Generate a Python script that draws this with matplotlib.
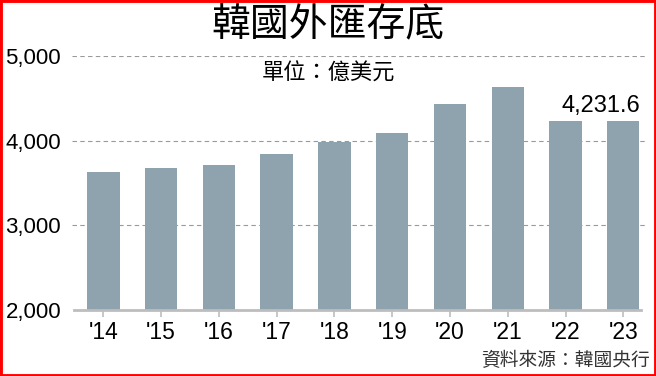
import matplotlib
matplotlib.use('Agg')
import matplotlib.pyplot as plt
from matplotlib.patches import Rectangle

years = ["'14", "'15", "'16", "'17", "'18", "'19", "'20", "'21", "'22", "'23"]
reserves = [3631, 3678, 3713, 3842, 3988, 4087, 4431, 4631, 4232, 4232]
yticks = [2000, 3000, 4000, 5000]
ytick_labels = ['2,000', '3,000', '4,000', '5,000']
last_label = '4,231.6'

cjk = ['Noto Sans CJK TC', 'DejaVu Sans']
num_font = ['Liberation Sans', 'DejaVu Sans']
bar_color = '#8fa3af'

fig = plt.figure(figsize=(6.56, 3.76), dpi=100)
ax = fig.add_axes([0.110, 0.176, 0.878, 0.675])

x = list(range(len(years)))
ax.bar(x, [v - 2000 for v in reserves], bottom=2000, width=0.56, color=bar_color, zorder=2)

ax.set_ylim(2000, 5000)
ax.set_xlim(-0.54, 9.43)
ax.set_yticks(yticks)
ax.set_yticklabels(ytick_labels, family=num_font, fontsize=16)
ax.set_xticks(x)
ax.set_xticklabels(years, family=num_font, fontsize=16.5)

for y in yticks[1:]:
    ax.axhline(y, color='#9a9a9a', lw=0.8, ls=(0, (4, 3)), zorder=1)

for s in ['top', 'right', 'left']:
    ax.spines[s].set_visible(False)
ax.spines['bottom'].set_color('#bdbdbd')
ax.spines['bottom'].set_linewidth(2)
ax.spines['bottom'].set_bounds(-0.5, 9.3)
ax.tick_params(axis='y', length=0, pad=8)
ax.tick_params(axis='x', length=5, color='#bdbdbd', width=1.2, pad=3)

ax.text(9.3, reserves[-1] + 50, last_label, ha='right', va='bottom',
        family=num_font, fontsize=17)

fig.text(0.5, 0.935, '韓國外匯存底', ha='center', va='center', family=cjk,
         fontsize=28, weight='medium')
fig.text(0.50, 0.805, '單位：億美元', ha='center', va='center', family=cjk, fontsize=16)
fig.text(0.99, 0.04, '資料來源：韓國央行', ha='right', va='center', family=cjk,
         fontsize=13.5, color='#333333')

fig.patches.append(Rectangle((0, 0), 1, 1, transform=fig.transFigure, fill=False,
                             edgecolor='#ff0000', lw=3.5, zorder=10))

fig.savefig('out.png', dpi=100)
